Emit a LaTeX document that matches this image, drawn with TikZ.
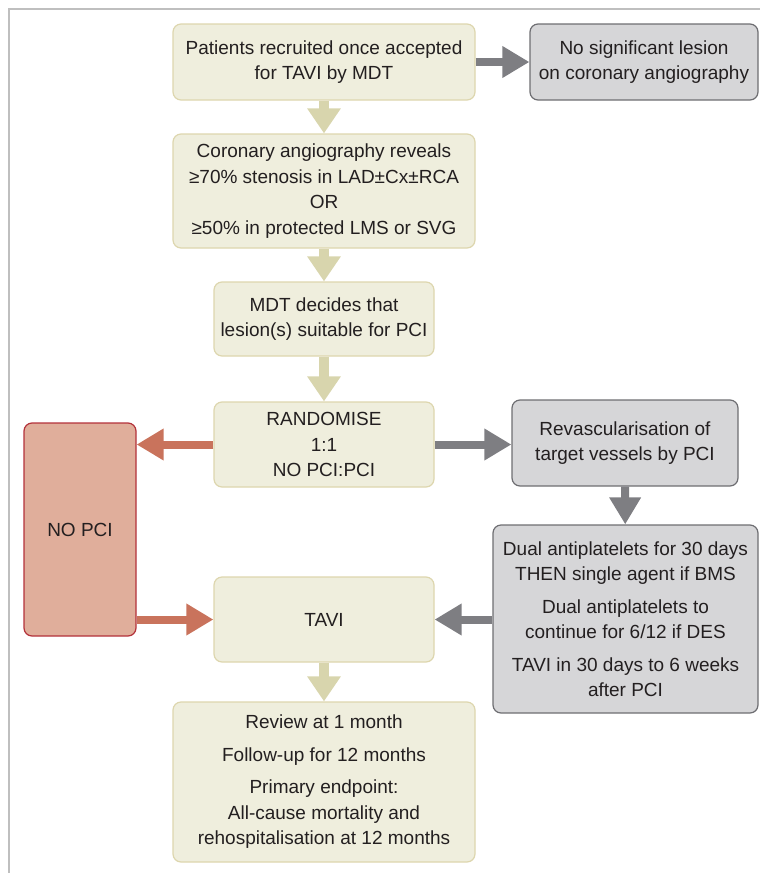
\documentclass[tikz,border=0pt]{standalone}
\usepackage{fontspec}
\setmainfont{Liberation Sans}
\usetikzlibrary{arrows.meta}
\definecolor{creamfill}{HTML}{EFEEDD}
\definecolor{creamline}{HTML}{DDD6AE}
\definecolor{tanarrow}{HTML}{D8D5AD}
\definecolor{greyfill}{HTML}{D6D6D8}
\definecolor{greyline}{HTML}{6E6E72}
\definecolor{greyarrow}{HTML}{7E7E82}
\definecolor{redfill}{HTML}{E0AE9B}
\definecolor{redline}{HTML}{B3313A}
\definecolor{redarrow}{HTML}{C9735C}
\definecolor{textgrey}{HTML}{231F20}
\begin{document}
\begin{tikzpicture}[x=1pt,y=-1pt,
  box/.style={draw, rounded corners=8pt, line width=1.2pt, inner sep=0pt,
    align=center, text=textgrey,
    font=\fontsize{19}{25.5}\selectfont},
  creambox/.style={box, fill=creamfill, draw=creamline},
  greybox/.style={box, fill=greyfill, draw=greyline},
  redbox/.style={box, fill=redfill, draw=redline},
  tanflow/.style={draw=tanarrow, line width=10pt,
    -{Triangle[width=32pt,length=25pt]}},
  greyflow/.style={draw=greyarrow, line width=8pt,
    -{Triangle[width=30pt,length=27pt]}},
  redflow/.style={draw=redarrow, line width=8pt,
    -{Triangle[width=30pt,length=27pt]}}]
  \useasboundingbox (0,0) rectangle (760,873);
  % frame
  \draw[line width=2pt, black!25] (9,873) -- (9,9) -- (760,9);%
  % main column
  \node[creambox, minimum width=302pt, minimum height=76pt] (recruit) at (324,62)
    {Patients recruited once accepted\\for TAVI by MDT};
  \node[greybox, minimum width=228pt, minimum height=76pt] (nolesion) at (644,62)
    {No significant lesion\\on coronary angiography};
  \node[creambox, minimum width=302pt, minimum height=114pt] (angio) at (324,191)
    {Coronary angiography reveals\\≥70\% stenosis in LAD±Cx±RCA\\OR\\≥50\% in protected LMS or SVG};
  \node[creambox, minimum width=220pt, minimum height=74pt] (mdt) at (324,319)
    {MDT decides that\\lesion(s) suitable for PCI};
  \node[creambox, minimum width=220pt, minimum height=85pt] (rand) at (324,444.5)
    {RANDOMISE\\1:1\\NO PCI:PCI};
  \node[creambox, minimum width=220pt, minimum height=85pt] (tavi) at (324,619.5)
    {TAVI};
  \node[creambox, minimum width=302pt, minimum height=160pt] (review) at (324,782)
    {Review at 1 month\\[7pt]Follow-up for 12 months\\[7pt]Primary endpoint:\\All-cause mortality and\\rehospitalisation at 12 months};
  % side branches
  \node[redbox, minimum width=112pt, minimum height=213pt] (nopci) at (80,529.5)
    {NO PCI};
  \node[greybox, minimum width=226pt, minimum height=86pt] (revasc) at (625,443)
    {Revascularisation of\\target vessels by PCI};
  \node[greybox, minimum width=265pt, minimum height=188pt] (dapt) at (625.5,619)
    {Dual antiplatelets for 30 days\\THEN single agent if BMS\\[7pt]Dual antiplatelets to\\continue for 6/12 if DES\\[7pt]TAVI in 30 days to 6 weeks\\after PCI};
  % arrows
  \draw[tanflow] (recruit) -- (angio);
  \draw[tanflow] (angio) -- (mdt);
  \draw[tanflow] (mdt) -- (rand);
  \draw[tanflow] (tavi) -- (review);
  \draw[greyflow] (recruit) -- (nolesion);
  \draw[greyflow] (rand.east) -- (rand.east -| revasc.west);
  \draw[greyflow] (revasc) -- (dapt);
  \draw[greyflow] (dapt.west |- tavi.east) -- (tavi.east);
  \draw[redflow] (rand.west) -- (rand.west -| nopci.east);
  \draw[redflow] (tavi.west -| nopci.east) -- (tavi.west);
\end{tikzpicture}
\end{document}
